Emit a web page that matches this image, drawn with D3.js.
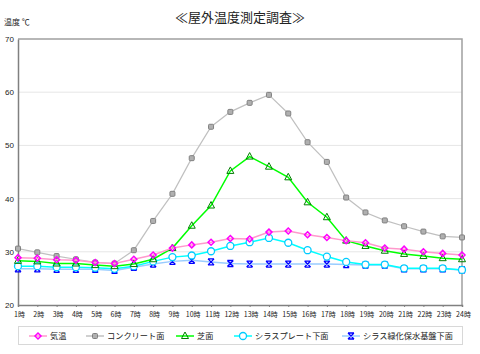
<!DOCTYPE html>
<html>
<head>
<meta charset="utf-8">
<script src="https://cdn.jsdelivr.net/npm/d3@7"></script>
<style>
  body { margin: 0; background: #fff; }
  text { font-family: "Noto Sans CJK JP", sans-serif; fill: #222; }
</style>
</head>
<body>
<script>
(function () {
  'use strict'

  var hours = ['1時', '2時', '3時', '4時', '5時', '6時', '7時', '8時', '9時', '10時', '11時', '12時',
    '13時', '14時', '15時', '16時', '17時', '18時', '19時', '20時', '21時', '22時', '23時', '24時']
  var yTicks = [20, 30, 40, 50, 60, 70]

  var kion = [28.9, 28.8, 28.5, 28.4, 28.0, 27.8, 28.6, 29.4, 30.7, 31.3, 31.8, 32.5,
    32.4, 33.7, 33.9, 33.2, 32.7, 32.1, 31.7, 30.7, 30.5, 30.0, 29.7, 29.4]
  var concrete = [30.6, 29.9, 29.2, 28.6, 28.0, 27.8, 30.3, 35.8, 40.9, 47.6, 53.5, 56.3,
    58.0, 59.5, 56.0, 50.6, 46.9, 40.2, 37.4, 35.9, 34.8, 33.8, 32.9, 32.7]
  var shiba = [28.3, 28.2, 27.8, 27.8, 27.5, 27.3, 27.7, 28.6, 30.7, 34.9, 38.7, 45.2,
    47.9, 46.0, 44.0, 39.3, 36.5, 32.1, 31.1, 30.2, 29.6, 29.2, 28.8, 28.6]
  var plate = [27.3, 27.3, 27.1, 27.1, 27.0, 26.8, 27.3, 28.2, 29.0, 29.3, 30.1, 31.1,
    31.8, 32.6, 31.7, 30.3, 29.1, 28.1, 27.6, 27.6, 26.9, 26.9, 26.9, 26.6]
  var kiban = [26.8, 26.8, 26.7, 26.7, 26.7, 26.5, 27.1, 27.7, 28.2, 28.4, 28.1, 27.8,
    27.7, 27.7, 27.7, 27.7, 27.7, 27.6, 27.5, 27.5, 26.8, 26.8, 26.8, 26.6]

  var series = [
    { name: '気温', values: kion, line: '#ff99cc', mark: '#ff00ff', shape: 'diamond' },
    { name: 'コンクリート面', values: concrete, line: '#c0c0c0', mark: '#808080', shape: 'square' },
    { name: '芝面', values: shiba, line: '#00ff00', mark: '#008000', shape: 'triangle' },
    { name: 'シラスプレート下面', values: plate, line: '#00ffff', mark: '#00ccff', shape: 'circle' },
    { name: 'シラス緑化保水基盤下面', values: kiban, line: '#99ccff', mark: '#0000ff', shape: 'cross' }
  ]

  var W = 480
  var H = 354
  var plot = { left: 18, right: 462, top: 39, bottom: 305 }

  var svg = d3.select('body').append('svg')
    .attr('width', W)
    .attr('height', H)

  var x = d3.scalePoint().domain(hours).range([plot.left, plot.right])
  var y = d3.scaleLinear().domain([20, 70]).range([plot.bottom, plot.top])

  // Title
  svg.append('text')
    .attr('x', 240).attr('y', 22)
    .attr('text-anchor', 'middle')
    .style('font-size', '13px')
    .text('≪屋外温度測定調査≫')

  svg.append('text')
    .attr('x', 4).attr('y', 25)
    .style('font-size', '8px')
    .text('温度 ℃')

  // Grid
  svg.append('g').selectAll('line')
    .data(yTicks.slice(1, -1))
    .enter().append('line')
    .attr('x1', plot.left).attr('x2', plot.right)
    .attr('y1', function (d) { return y(d) })
    .attr('y2', function (d) { return y(d) })
    .attr('stroke', '#e6e6e6')

  // Border top/right
  svg.append('path')
    .attr('d', 'M' + plot.left + ',' + plot.top + 'H' + plot.right + 'V' + plot.bottom)
    .attr('fill', 'none')
    .attr('stroke', '#a0a0a0')
    .attr('stroke-width', 1.5)

  // Axes
  var leftAxis = d3.axisLeft(y).tickValues(yTicks).tickSize(0).tickPadding(4)
  var gy = svg.append('g')
    .attr('transform', 'translate(' + plot.left + ',0)')
    .call(leftAxis)
  gy.select('.domain').attr('stroke', '#808080').attr('stroke-width', 1.5)
  gy.selectAll('text').style('font-size', '8px').style('font-family', 'Arial, "Liberation Sans", sans-serif')

  var bottomAxis = d3.axisBottom(x).tickSize(2).tickPadding(5)
  var gx = svg.append('g')
    .attr('transform', 'translate(0,' + plot.bottom + ')')
    .call(bottomAxis)
  gx.select('.domain').attr('stroke', '#808080').attr('stroke-width', 1.5)
  gx.selectAll('line').attr('stroke', '#808080')
  gx.selectAll('text').style('font-size', '7px').attr('dx', '1')

  var line = d3.line()
    .x(function (d, i) { return x(hours[i]) })
    .y(function (d) { return y(d) })

  function marker (g, shape, color, cx, cy) {
    if (shape === 'diamond') {
      g.append('path')
        .attr('d', 'M' + cx + ',' + (cy - 3) + 'L' + (cx + 3) + ',' + cy + 'L' + cx + ',' + (cy + 3) + 'L' + (cx - 3) + ',' + cy + 'Z')
        .attr('fill', 'none').attr('stroke', color).attr('stroke-width', 1.5)
    } else if (shape === 'square') {
      g.append('rect')
        .attr('x', cx - 2.5).attr('y', cy - 2.5).attr('width', 5).attr('height', 5)
        .attr('rx', 1)
        .attr('fill', '#b0b0b0').attr('stroke', color).attr('stroke-width', 1)
    } else if (shape === 'triangle') {
      g.append('path')
        .attr('d', 'M' + cx + ',' + (cy - 4) + 'L' + (cx + 3.5) + ',' + (cy + 2.5) + 'L' + (cx - 3.5) + ',' + (cy + 2.5) + 'Z')
        .attr('fill', 'none').attr('stroke', color).attr('stroke-width', 1)
    } else if (shape === 'circle') {
      g.append('circle')
        .attr('cx', cx).attr('cy', cy).attr('r', 3.5)
        .attr('fill', '#fff').attr('stroke', color).attr('stroke-width', 1.3)
    } else {
      g.append('path')
        .attr('d', 'M' + (cx - 3) + ',' + (cy - 3) + 'L' + (cx + 3) + ',' + (cy + 3) +
          'M' + (cx + 3) + ',' + (cy - 3) + 'L' + (cx - 3) + ',' + (cy + 3) +
          'M' + (cx - 3) + ',' + (cy - 3) + 'H' + (cx + 3) + 'M' + (cx - 3) + ',' + (cy + 3) + 'H' + (cx + 3))
        .attr('fill', 'none').attr('stroke', color).attr('stroke-width', 1.3)
    }
  }

  // Draw series, last first so 気温 sits on top
  series.slice().reverse().forEach(function (s) {
    var g = svg.append('g')
    g.append('path')
      .attr('d', line(s.values))
      .attr('fill', 'none')
      .attr('stroke', s.line)
      .attr('stroke-width', s.shape === 'square' ? 1.2 : 1.5)
    s.values.forEach(function (v, i) {
      marker(g, s.shape, s.mark, x(hours[i]), y(v))
    })
  })

  // Legend
  var legend = svg.append('g')
  legend.append('rect')
    .attr('x', 18.5).attr('y', 326.5).attr('width', 444).attr('height', 18)
    .attr('fill', '#fff').attr('stroke', '#d8d8d8')
  var legendX = [29, 86, 176, 234, 342]
  series.forEach(function (s, i) {
    var lx = legendX[i]
    legend.append('line')
      .attr('x1', lx).attr('x2', lx + 18)
      .attr('y1', 336).attr('y2', 336)
      .attr('stroke', s.line).attr('stroke-width', 1.5)
    marker(legend, s.shape, s.mark, lx + 9, 336)
    legend.append('text')
      .attr('x', lx + 21).attr('y', 339)
      .style('font-size', '8.2px')
      .text(s.name)
  })
}())
</script>
</body>
</html>
